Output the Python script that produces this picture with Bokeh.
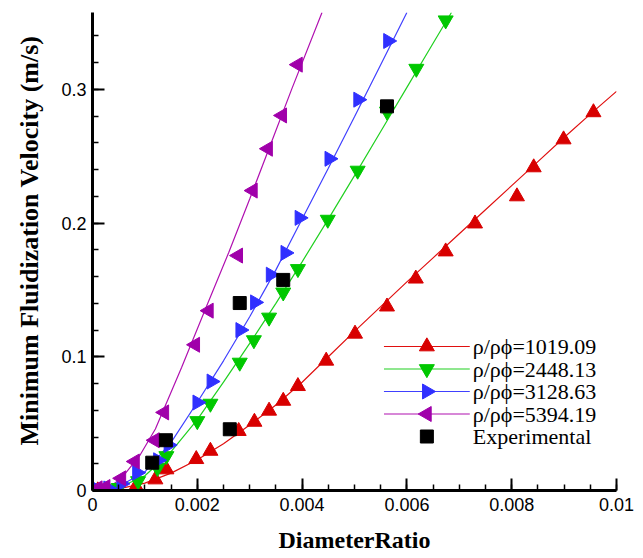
from math import pi
import numpy as np
from bokeh.plotting import figure
from bokeh.models import FixedTicker, Range1d, Title
from bokeh.core.properties import value
from bokeh.embed import file_html
from bokeh.resources import INLINE

# ---------------- data ----------------
red_x = [0.0001, 0.0003, 0.00083, 0.0012, 0.00141, 0.00198, 0.00225, 0.00279, 0.00309,
         0.00337, 0.00364, 0.00392, 0.00446, 0.00501, 0.00562, 0.00617, 0.00674, 0.0073,
         0.0081, 0.00842, 0.00899, 0.00956]
red_y = [0.0, 0.0005, 0.003, 0.0082, 0.0157, 0.0234, 0.0296, 0.0444, 0.0513,
         0.0596, 0.067, 0.078, 0.097, 0.1172, 0.1375, 0.1584, 0.1787, 0.1996,
         0.2199, 0.2416, 0.2625, 0.2828]
red_line_x = [0, 0.0005, 0.001, 0.0015, 0.002, 0.0025, 0.003, 0.0035, 0.004, 0.0045, 0.005,
              0.0055, 0.006, 0.0065, 0.007, 0.0075, 0.008, 0.0085, 0.009, 0.0095, 0.01]
red_line_y = [0, 0.0012, 0.0055, 0.013, 0.023, 0.035, 0.049, 0.064, 0.081, 0.1, 0.119,
              0.1375, 0.156, 0.174, 0.192, 0.21, 0.228, 0.246, 0.264, 0.2815, 0.2985]

green_x = [0.0001, 0.0003, 0.0005, 0.00087, 0.00124, 0.00141, 0.002, 0.00225, 0.00281,
           0.00308, 0.00337, 0.00364, 0.00392, 0.00449, 0.00506, 0.00562, 0.00618, 0.00674]
green_y = [0.0, 0.0005, 0.002, 0.0071, 0.0169, 0.0258, 0.052, 0.065, 0.0957,
           0.1125, 0.1294, 0.1482, 0.1657, 0.2026, 0.2393, 0.2835, 0.3155, 0.3517]
green_line_x = [0, 0.0003, 0.0005, 0.001, 0.0015, 0.002, 0.0025, 0.003, 0.0035, 0.004,
                0.0045, 0.005, 0.0055, 0.006, 0.0065, 0.00685]
green_line_y = [0, 0.0008, 0.002, 0.011, 0.029, 0.053, 0.081, 0.11, 0.14, 0.171,
                0.203, 0.2355, 0.2685, 0.3015, 0.3345, 0.3575]

blue_x = [0.0001, 0.0003, 0.00055, 0.00085, 0.00125, 0.00145, 0.002, 0.00227, 0.00282,
          0.0031, 0.0034, 0.00368, 0.00395, 0.00452, 0.00507, 0.00564]
blue_y = [0.0005, 0.0015, 0.005, 0.0133, 0.0226, 0.034, 0.0658, 0.0815, 0.12,
          0.1407, 0.1614, 0.1777, 0.2039, 0.2481, 0.2923, 0.3362]
blue_line_x = [0, 0.0003, 0.0005, 0.001, 0.0015, 0.002, 0.0025, 0.003, 0.0035, 0.004,
               0.0045, 0.005, 0.0055, 0.006]
blue_line_y = [0, 0.001, 0.003, 0.014, 0.036, 0.066, 0.097, 0.13, 0.165, 0.203,
               0.241, 0.2795, 0.3185, 0.3575]

purple_x = [0.0001, 0.00025, 0.00055, 0.00081, 0.00119, 0.00137, 0.00196, 0.00222, 0.00278,
            0.00306, 0.00335, 0.00362, 0.00392]
purple_y = [0.0016, 0.0026, 0.0091, 0.0217, 0.0376, 0.0584, 0.109, 0.1345, 0.1757,
            0.2243, 0.2556, 0.2805, 0.3185]
purple_line_x = [0, 0.0003, 0.00055, 0.0009, 0.0012, 0.0017, 0.0022, 0.0026, 0.003,
                 0.0034, 0.0038, 0.00438]
purple_line_y = [0, 0.002, 0.009, 0.026, 0.046, 0.092, 0.14, 0.178, 0.218,
                 0.259, 0.3, 0.3575]

exp_x = [0.00114, 0.0014, 0.00262, 0.00281, 0.00364, 0.00562]
exp_y = [0.0208, 0.0376, 0.0458, 0.1402, 0.1575, 0.2873]

series_labels = ["ρ/ρϕ=1019.09", "ρ/ρϕ=2448.13", "ρ/ρϕ=3128.63", "ρ/ρϕ=5394.19", "Experimental"]

x_ticks = [0, 0.002, 0.004, 0.006, 0.008, 0.01]
x_tick_labels = ["0", "0.002", "0.004", "0.006", "0.008", "0.01"]
y_ticks = [0, 0.1, 0.2, 0.3]
y_tick_labels = ["0", "0.1", "0.2", "0.3"]

# ---------------- layout constants ----------------
FRAME_W, FRAME_H = 525, 478
RED, GREEN, BLUE, PURPLE = "#d80000", "#00c800", "#3030ff", "#a000aa"
LRED, LGREEN, LBLUE, LPURPLE = "#e01010", "#20d020", "#4040ff", "#b010b0"
MSIZE = 15

p = figure(width=640, height=557, output_backend="svg", toolbar_location=None,
           x_range=Range1d(0, 0.01), y_range=Range1d(0, 0.3575),
           min_border_left=91, min_border_right=24, min_border_top=12, min_border_bottom=67)
p.xgrid.visible = False
p.ygrid.visible = False
p.outline_line_color = None
p.extra_x_ranges = {"px_x": Range1d(0, FRAME_W)}
p.extra_y_ranges = {"px_y": Range1d(0, FRAME_H)}

p.xaxis.ticker = FixedTicker(ticks=x_ticks, minor_ticks=list(np.round(np.arange(0, 0.01001, 0.0005), 6)))
p.yaxis.ticker = FixedTicker(ticks=y_ticks, minor_ticks=list(np.round(np.arange(0, 0.35, 0.02), 6)))
p.xaxis.major_label_overrides = dict(zip(x_ticks, x_tick_labels))
p.yaxis.major_label_overrides = dict(zip(y_ticks, y_tick_labels))

for ax in (p.xaxis[0], p.yaxis[0]):
    ax.axis_line_width = 3
    ax.axis_line_color = "black"
    ax.major_tick_in = 12
    ax.major_tick_out = 0
    ax.minor_tick_in = 6
    ax.minor_tick_out = 0
    ax.major_tick_line_width = 2
    ax.minor_tick_line_width = 1.5
    ax.major_tick_line_color = "black"
    ax.minor_tick_line_color = "black"
    ax.major_label_text_font = "Liberation Sans"
    ax.major_label_text_font_size = "18px"
    ax.major_label_text_color = "black"
    ax.axis_label_text_font = "Liberation Serif"
    ax.axis_label_text_font_style = "bold"
    ax.axis_label_text_color = "black"

p.xaxis.axis_label = "DiameterRatio"
p.xaxis.axis_label_text_font_size = "24px"
p.xaxis.major_label_standoff = 7
p.xaxis.axis_label_standoff = 13
p.yaxis.major_label_standoff = 6

ytitle = Title(text="Minimum Fluidization Velocity (m/s)", align="left", offset=45,
               vertical_align="middle", standoff=27,
               text_font="Liberation Serif", text_font_style="bold",
               text_font_size="26px", text_color="black")
p.add_layout(ytitle, "left")

# ---------------- data marks ----------------
p.line(red_line_x, red_line_y, line_color=LRED, line_width=1.2)
p.line(green_line_x, green_line_y, line_color=LGREEN, line_width=1.2)
p.line(blue_line_x, blue_line_y, line_color=LBLUE, line_width=1.2)
p.line(purple_line_x, purple_line_y, line_color=LPURPLE, line_width=1.2)

p.scatter(red_x, red_y, marker="triangle", size=MSIZE, fill_color=RED, line_color=RED)
p.scatter(green_x, green_y, marker="inverted_triangle", size=MSIZE, fill_color=GREEN, line_color=GREEN)
p.scatter(blue_x, blue_y, marker="triangle", angle=-pi / 2, size=MSIZE, fill_color=BLUE, line_color=BLUE)
p.scatter(purple_x, purple_y, marker="triangle", angle=pi / 2, size=MSIZE, fill_color=PURPLE, line_color=PURPLE)
p.scatter(exp_x, exp_y, marker="square", size=13, fill_color="black", line_color="black")

# ---------------- legend (in frame pixel units) ----------------
LEG_LINE_X0, LEG_LINE_X1, LEG_MARK_X, LEG_TEXT_X = 292, 378, 335, 381
LEG_Y0, LEG_DY = 144, 22.5
rows = [LEG_Y0 - i * LEG_DY for i in range(5)]
line_cols = [LRED, LGREEN, LBLUE, LPURPLE]
p.segment(x0=[LEG_LINE_X0] * 4, y0=rows[:4], x1=[LEG_LINE_X1] * 4, y1=rows[:4],
          line_color=line_cols, line_width=1.2, x_range_name="px_x", y_range_name="px_y")
p.scatter(x=[LEG_MARK_X] * 5, y=rows,
          marker=["triangle", "inverted_triangle", "triangle", "triangle", "square"],
          angle=[0, 0, -pi / 2, pi / 2, 0],
          size=[MSIZE, MSIZE, MSIZE, MSIZE, 13],
          fill_color=[RED, GREEN, BLUE, PURPLE, "black"],
          line_color=[RED, GREEN, BLUE, PURPLE, "black"],
          x_range_name="px_x", y_range_name="px_y")
p.text(x=[LEG_TEXT_X] * 5, y=rows, text=series_labels,
       text_font=value("Liberation Serif"), text_font_size=value("22px"),
       text_color="black", text_align="left", text_baseline="middle",
       x_range_name="px_x", y_range_name="px_y")

open("out.html", "w").write(file_html(p, INLINE))
